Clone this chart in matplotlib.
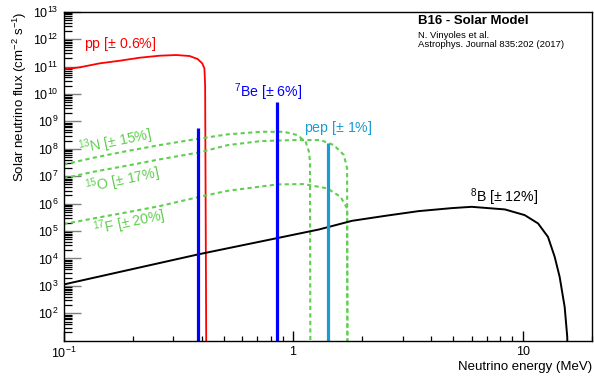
import numpy as np
import matplotlib
matplotlib.use('Agg')
import matplotlib.pyplot as plt
from matplotlib.ticker import LogLocator, FixedLocator, NullFormatter

plt.rcParams['font.family'] = ['Liberation Sans', 'DejaVu Sans']
plt.rcParams['mathtext.fontset'] = 'custom'
plt.rcParams['mathtext.rm'] = 'Liberation Sans'
plt.rcParams['mathtext.it'] = 'Liberation Sans:italic'
plt.rcParams['mathtext.bf'] = 'Liberation Sans:bold'

# spectra (energy in MeV, flux in cm^-2 s^-1 [MeV^-1])
pp_e = [0.100, 0.118, 0.144, 0.176, 0.215, 0.262, 0.310, 0.354, 0.384, 0.402, 0.411, 0.414, 0.419]
pp_f = [7.9e10, 9.4e10, 1.31e11, 1.63e11, 2.10e11, 2.48e11, 2.63e11, 2.42e11, 1.88e11, 1.31e11, 8.6e10, 2.1e10, 1]

n13_e = [0.100, 0.135, 0.188, 0.262, 0.378, 0.519, 0.724, 0.914, 1.044, 1.135, 1.173, 1.185, 1.190]
n13_f = [2.65e7, 4.7e7, 8.2e7, 1.36e8, 2.26e8, 3.36e8, 4.17e8, 4.17e8, 3.16e8, 1.80e8, 7.8e7, 3.4e7, 1]

o15_e = [0.100, 0.135, 0.188, 0.262, 0.391, 0.519, 0.724, 1.010, 1.319, 1.506, 1.665, 1.720, 1.724]
o15_f = [8.3e6, 1.45e7, 2.40e7, 4.10e7, 7.40e7, 1.36e8, 1.91e8, 2.08e8, 2.08e8, 1.36e8, 5.9e7, 1.93e7, 1]

f17_e = [0.100, 0.135, 0.188, 0.262, 0.404, 0.519, 0.855, 1.116, 1.409, 1.610, 1.720, 1.728]
f17_f = [1.79e5, 2.88e5, 4.78e5, 8.1e5, 1.88e6, 2.93e6, 5.02e6, 5.15e6, 3.59e6, 1.77e6, 6.7e5, 1]

b8_e = [0.100, 0.391, 0.842, 1.297, 1.808, 2.525, 3.521, 4.911, 5.998, 8.373, 10.22, 11.68, 12.90, 13.80, 14.50, 15.25, 15.65, 15.80]
b8_f = [1.12e3, 1.44e4, 5.4e4, 1.14e5, 2.36e5, 3.59e5, 5.32e5, 6.85e5, 7.64e5, 6.14e5, 3.8e5, 1.89e5, 6.1e4, 1.14e4, 2.13e3, 170, 13.8, 0.1]

# line sources
be7_e = [0.384, 0.855]
be7_f = [5.9e8, 4.9e9]
pep_e = [1.42]
pep_f = [1.58e8]

green = '#5fcf4f'
azure = '#1a9bd2'

fig = plt.figure(figsize=(5.94, 3.77), dpi=100)
ax = fig.add_axes([63.5 / 594, 1 - 340.7 / 377, (591.7 - 63.5) / 594, (340.7 - 11.7) / 377])

ax.plot(pp_e, pp_f, color='red', lw=1.3)
dash = (0, (2, 1.6))
ax.plot(n13_e, n13_f, color=green, lw=1.5, ls=dash)
ax.plot(o15_e, o15_f, color=green, lw=1.5, ls=dash)
ax.plot(f17_e, f17_f, color=green, lw=1.5, ls=dash)
ax.plot(b8_e, b8_f, color='black', lw=1.4)
ax.vlines(be7_e, 1, be7_f, color='blue', lw=2.3)
ax.vlines(pep_e, 1, pep_f, color=azure, lw=2.3)

ax.set_xscale('log')
ax.set_yscale('log')
ax.set_xlim(0.1, 20)
ax.set_ylim(10, 1e13)

# ROOT style axes
ax.set_xticks([0.1, 1, 10])
ax.set_xticklabels([r'$10^{-1}$', '1', '10'])
ax.xaxis.set_minor_locator(LogLocator(base=10, subs=np.arange(2, 10), numticks=100))
ax.xaxis.set_minor_formatter(NullFormatter())
ax.yaxis.set_major_locator(FixedLocator([10.0 ** k for k in range(2, 14)]))
ax.set_yticklabels([r'$10^{%d}$' % k for k in range(2, 14)])
ax.yaxis.set_minor_locator(LogLocator(base=10, subs=np.arange(2, 10), numticks=100))
ax.yaxis.set_minor_formatter(NullFormatter())

ax.tick_params(axis='both', which='both', direction='in', top=False, right=False, labelsize=9)
ax.tick_params(axis='y', which='major', length=12, color='#808080', width=1.0, pad=3.5)
ax.tick_params(axis='y', which='minor', length=6, color='black', width=0.9)
ax.tick_params(axis='x', which='major', length=7, color='black', width=1.0, pad=4)
ax.tick_params(axis='x', which='minor', length=3.5, color='black', width=0.9)
for s in ax.spines.values():
    s.set_linewidth(1.0)

ax.set_xlabel('Neutrino energy (MeV)', loc='right', fontsize=9.5, labelpad=0)
ax.set_ylabel(r'Solar neutrino flux (cm$^{-2}$ s$^{-1}$)', loc='top', fontsize=9.5)
ax.yaxis.set_label_coords(-0.082, 1.0)
ax.yaxis.label.set_va('center')

# labels of the sources
ax.text(0.1227, 6.9e11, r'pp [$\pm$ 0.6%]', color='red', fontsize=10.2, va='center')
ax.text(0.555, 1.17e10, r'$^{7}$Be [$\pm$ 6%]', color='blue', fontsize=10.2, va='center')
ax.text(1.116, 5.6e8, r'pep [$\pm$ 1%]', color=azure, fontsize=10.2, va='center')
ax.text(0.1179, 6.4e7, r'$^{13}$N [$\pm$ 15%]', color=green, fontsize=10.2,
        ha='left', va='baseline', rotation=11.5, rotation_mode='anchor')
ax.text(0.1265, 2.4e6, r'$^{15}$O [$\pm$ 17%]', color=green, fontsize=10.2,
        ha='left', va='baseline', rotation=12, rotation_mode='anchor')
ax.text(0.137, 7.1e4, r'$^{17}$F [$\pm$ 20%]', color=green, fontsize=10.2,
        ha='left', va='baseline', rotation=12, rotation_mode='anchor')
ax.text(5.92, 1.77e6, r'$^{8}$B [$\pm$ 12%]', color='black', fontsize=10.2, va='center')

fig.text(418 / 594, 1 - 21 / 377, 'B16 - Solar Model', fontsize=9.5, weight='bold', va='center')
fig.text(418 / 594, 1 - 35 / 377, 'N. Vinyoles et al.', fontsize=6.8, va='center')
fig.text(418 / 594, 1 - 44.5 / 377, 'Astrophys. Journal 835:202 (2017)', fontsize=6.8, va='center')

fig.savefig('out.png', dpi=100)
